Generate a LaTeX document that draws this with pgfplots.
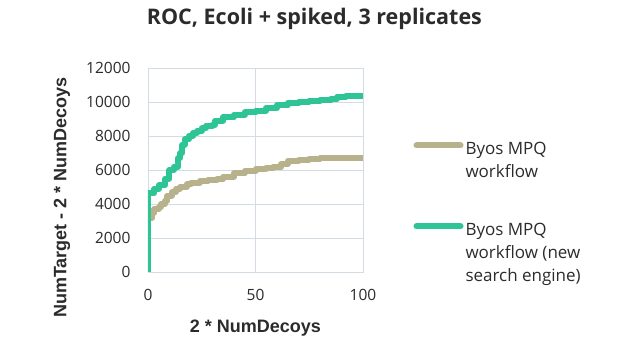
\documentclass[border=0pt]{standalone}
\usepackage{pgfplots}
\pgfplotsset{compat=1.18}
\usepackage{fontspec}
\setmainfont{Open Sans}
\newfontfamily\lab{Liberation Sans}
\definecolor{cgreen}{HTML}{2EC496}
\definecolor{ctan}{HTML}{B8B28C}
\definecolor{cgrid}{HTML}{D3DBE3}
\definecolor{ctext}{HTML}{2B2B2B}
\begin{document}
\begin{tikzpicture}[x=1pt,y=1pt]
\path[use as bounding box] (-148,-82) rectangle (486,272);
\begin{axis}[
  at={(0,0)}, anchor=origin,
  scale only axis, width=215pt, height=204pt,
  xmin=0, xmax=100, ymin=0, ymax=12000,
  xtick={0,50,100}, ytick={0,2000,4000,6000,8000,10000,12000},
  axis line style={cgrid, line width=0.8pt},
  grid=major, major grid style={cgrid, line width=0.8pt},
  tick style={draw=none},
  /pgf/number format/assume math mode=true,
  scaled y ticks=false,
  yticklabel style={/pgf/number format/1000 sep={}, font=\fontsize{15.5}{17}\selectfont, text=ctext, xshift=-14pt},
  xticklabel style={font=\fontsize{15.5}{17}\selectfont, text=ctext, yshift=-14pt},
  title={\bfseries ROC, Ecoli + spiked, 3 replicates},
  title style={at={(0.774,1.21)}, anchor=center, yshift=0pt, font=\fontsize{21.5}{24}\selectfont, text=ctext},
  xlabel={\lab\bfseries 2 * NumDecoys},
  xlabel style={at={(0.5,-0.275)}, anchor=center, font=\fontsize{18}{20}\selectfont, text=ctext},
  ylabel={\lab\bfseries NumTarget - 2 * NumDecoys},
  ylabel style={at={(-0.40,0.365)}, anchor=center, font=\fontsize{18}{20}\selectfont, text=ctext},
  legend style={at={(1.22,0.655)}, anchor=north west, draw=none, fill=none,
    font=\fontsize{17}{23}\selectfont, text=ctext, row sep=63pt,
    /tikz/every even column/.append style={column sep=2pt}},
  legend cell align=left,
  legend image code/.code={\draw[#1, line width=6pt, line cap=round] (2pt,4pt) -- (46pt,4pt);},
]
\addplot[ctan, line width=6pt, const plot, line join=round] coordinates {
(1,3200)(2,3500)(3,3700)(5,3800)(6,4000)(8,4200)(9,4500)(11,4700)(13,4900)(15,5000)
(18,5150)(20,5250)(24,5350)(28,5400)(32,5450)(35,5600)(40,5800)(45,5950)(50,6050)
(55,6100)(58,6150)(62,6350)(65,6550)(70,6600)(75,6650)(80,6700)(90,6720)(100,6720)};
\addlegendentry{\parbox[t]{140pt}{Byos MPQ\\workflow}}
\addplot[cgreen, line width=6pt, const plot, line join=round] coordinates {
(0,0)(0,4650)(3,4650)(3,4900)(5,4900)(5,5100)(8,5100)(8,5500)(10,5500)(10,6000)
(12,6000)(12,6200)(14,6200)(14,6700)(15,6700)(15,7000)(16,7000)(16,7500)(17,7500)
(17,7800)(19,7800)(19,8000)(21,8000)(21,8200)(23,8300)(25,8450)(27,8600)(30,8650)
(31,8900)(35,9100)(40,9250)(45,9400)(50,9500)(55,9650)(60,9800)(65,9950)(70,10000)
(75,10050)(80,10100)(85,10200)(88,10300)(92,10350)(100,10350)};
\addlegendentry{\parbox[t]{140pt}{Byos MPQ\\workflow (new\\search engine)}}
\end{axis}
\end{tikzpicture}
\end{document}
